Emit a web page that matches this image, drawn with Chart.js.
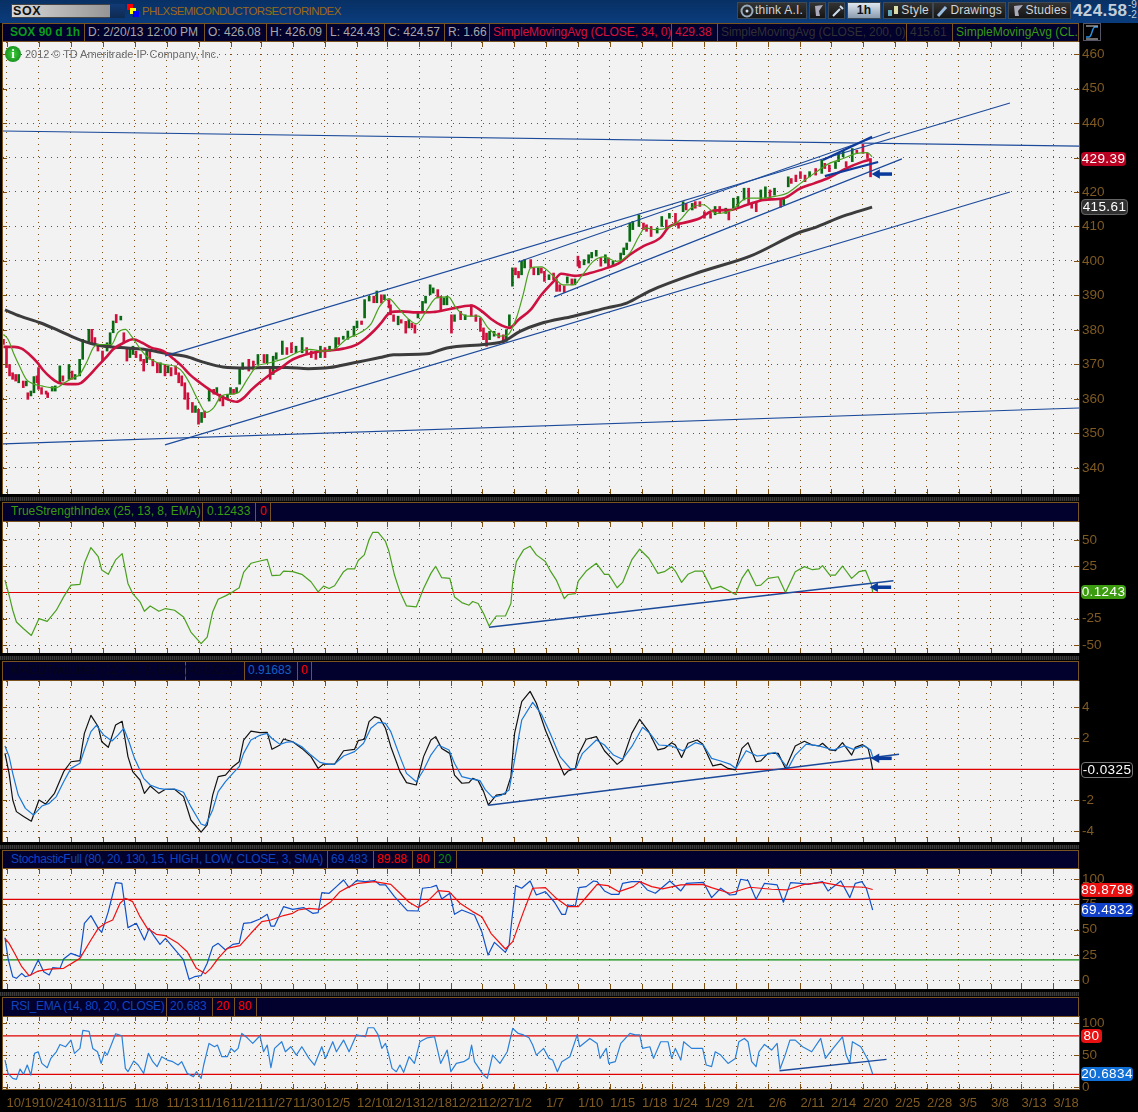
<!DOCTYPE html>
<html><head><meta charset="utf-8"><title>SOX</title>
<script src="https://cdn.jsdelivr.net/npm/chart.js@4"></script>
<style>
html,body{margin:0;padding:0;background:#000;width:1138px;height:1112px;overflow:hidden;font-family:"Liberation Sans",sans-serif}
canvas{position:absolute;left:0}
.a{position:absolute;white-space:nowrap}
.bar{position:absolute;left:2px;width:1077px;background:#02002c;border:1px solid #7a5420;box-sizing:border-box;z-index:3}
.cell{position:absolute;top:0;bottom:0;border-right:1px solid #7a5420;font-size:12px;line-height:17px;white-space:nowrap;box-sizing:border-box;padding-left:3px}
.hatch{position:absolute;left:0;width:1079px;height:4px;background:repeating-linear-gradient(90deg,#3a3a3a 0 1px,#1c1c1c 1px 2px)}
.bdg{position:absolute;left:1081px;height:14px;line-height:14px;border-radius:4px;color:#fff;font-size:13.5px;text-align:center;z-index:4;letter-spacing:.4px}
.btn{position:absolute;top:2px;height:17px;background:linear-gradient(#333,#151515);border:1px solid #3d4a55;box-sizing:border-box;color:#cfd4d8;font-size:12px;line-height:15px;text-align:right;padding-right:3px;letter-spacing:.2px}
.btn svg{position:absolute;left:2px;top:1px}
</style></head><body>
<div class="a" style="left:0;top:0;width:1138px;height:23px;background:linear-gradient(#083064,#0a3c7c)"></div>
<div class="a" style="left:11px;top:4px;width:114px;height:14px;background:linear-gradient(90deg,#d8d8d8,#8c8c8c);border:1px solid #444;box-sizing:border-box;font:bold 12.5px/12px 'Liberation Sans';letter-spacing:.6px;padding-left:1px;color:#111">SOX</div>
<div class="a" style="left:110px;top:4px;width:15px;height:14px;background:linear-gradient(#123a78,#0e2a50)"></div>
<div class="a" style="left:127px;top:4px;width:6px;height:6px;background:#f00"></div>
<div class="a" style="left:130px;top:8px;width:6px;height:6px;background:#ff0"></div>
<div class="a" style="left:133px;top:11px;width:6px;height:6px;background:#00f"></div>
<div class="a" style="left:142px;top:4px;font-size:11.5px;line-height:15px;letter-spacing:-.6px;color:#9a6a18">PHLXSEMICONDUCTORSECTORINDEX</div>
<div class="btn" style="left:737px;width:70px"><svg width="14" height="14"><circle cx="7" cy="7" r="5.5" fill="none" stroke="#9ab" stroke-width="2"/><circle cx="7" cy="7" r="1.5" fill="#cde"/></svg>think A.I.</div>
<div class="btn" style="left:809px;width:17px"><svg width="13" height="14"><path d="M3 2L11 1L7 7L8 12H4Z" fill="#aab"/></svg></div>
<div class="btn" style="left:828px;width:17px"><svg width="13" height="14"><path d="M2 12L9 5M9 2L12 5" stroke="#cde" stroke-width="2" fill="none"/></svg></div>
<div class="btn" style="left:847px;width:34px;background:linear-gradient(#dfe6ee,#8a9cb0);color:#111;font-weight:bold;text-align:center;padding:0">1h</div>
<div class="btn" style="left:883px;width:50px"><svg width="14" height="14"><rect x="2" y="6" width="4" height="6" fill="#6ab"/><rect x="8" y="2" width="4" height="8" fill="#dda"/></svg>Style</div>
<div class="btn" style="left:933px;width:73px"><svg width="14" height="14"><path d="M2 12L10 3" stroke="#9bd" stroke-width="3"/></svg>Drawings</div>
<div class="btn" style="left:1008px;width:63px"><svg width="14" height="14"><path d="M3 2L12 1L7 7L8 12H4Z" fill="#aab"/></svg>Studies</div>
<div class="a" style="left:1073px;top:2px;font:bold 17px/18px 'Liberation Sans';color:#c4ced8;letter-spacing:.4px">424.58</div>
<div class="a" style="left:1128px;top:0;font-size:10px;line-height:10px;color:#c4ced8">-9<br>-2</div>

<div class="bar" style="top:23px;height:19px">
 <div class="cell" style="left:0;width:82px;color:#0a9a1e;font-weight:bold;padding-left:7px">SOX 90 d 1h</div>
 <div class="cell" style="left:82px;width:120px;color:#a8a8a8">D: 2/20/13 12:00 PM</div>
 <div class="cell" style="left:202px;width:62px;color:#a8a8a8">O: 426.08</div>
 <div class="cell" style="left:264px;width:60px;color:#a8a8a8">H: 426.09</div>
 <div class="cell" style="left:324px;width:58px;color:#a8a8a8">L: 424.43</div>
 <div class="cell" style="left:382px;width:60px;color:#a8a8a8">C: 424.57</div>
 <div class="cell" style="left:442px;width:45px;color:#a8a8a8">R: 1.66</div>
 <div class="cell" style="left:487px;width:182px;color:#d8103c;letter-spacing:-.1px">SimpleMovingAvg (CLOSE, 34, 0)</div>
 <div class="cell" style="left:669px;width:46px;color:#d8103c">429.38</div>
 <div class="cell" style="left:715px;width:189px;color:#303034;letter-spacing:-.1px">SimpleMovingAvg (CLOSE, 200, 0)</div>
 <div class="cell" style="left:904px;width:46px;color:#303034">415.61</div>
 <div class="cell" style="left:950px;right:0;border:0;overflow:hidden;color:#3a9a10">SimpleMovingAvg (CL..</div>
</div>
<div class="a" style="left:1083px;top:23px;width:18px;height:18px;border:1px solid #556;box-sizing:border-box;z-index:3"><svg width="16" height="16"><path d="M2 13 H5 C8 13 8 3 11 3 H14" stroke="#2a90e0" fill="none" stroke-width="1.5"/><path d="M2 2H14M2 15H14" stroke="#ddd"/></svg></div>
<div class="a" style="left:5px;top:46px;width:16px;height:16px;border-radius:8px;background:radial-gradient(#3ed03e,#0a7a12);color:#fff;font:bold 13px/16px 'Liberation Serif';text-align:center;z-index:3">i</div>
<div class="a" style="left:25px;top:47px;color:#6e6e6e;font-size:11px;line-height:14px;z-index:3;letter-spacing:-.05px">2012 © TD Ameritrade IP Company, Inc.</div>

<div class="hatch" style="top:497px"></div>
<div class="bar" style="top:502px;height:20px">
 <div class="cell" style="left:0;width:200px;color:#3a9a10;padding-left:8px">TrueStrengthIndex (25, 13, 8, EMA)</div>
 <div class="cell" style="left:200px;width:53px;color:#3a9a10;padding-left:4px">0.12433</div>
 <div class="cell" style="left:253px;width:15px;color:#f00;padding-left:4px">0</div>
</div>
<div class="hatch" style="top:656px"></div>
<div class="bar" style="top:661px;height:20px">
 <div class="cell" style="left:0;width:183px;color:#060618;padding-left:8px">MACDTwoLines (12, 26, 9, EMA)</div>
 <div class="cell" style="left:183px;width:59px;color:#060618;padding-left:4px">-0.03252</div>
 <div class="cell" style="left:242px;width:53px;color:#1060c8">0.91683</div>
 <div class="cell" style="left:295px;width:14px;color:#f00">0</div>
</div>
<div class="hatch" style="top:845px"></div>
<div class="bar" style="top:850px;height:19px">
 <div class="cell" style="left:0;width:325px;color:#1044c0;padding-left:8px;letter-spacing:-.3px">StochasticFull (80, 20, 130, 15, HIGH, LOW, CLOSE, 3, SMA)</div>
 <div class="cell" style="left:325px;width:46px;color:#1044c0">69.483</div>
 <div class="cell" style="left:371px;width:39px;color:#f00">89.88</div>
 <div class="cell" style="left:410px;width:22px;color:#f00">80</div>
 <div class="cell" style="left:432px;width:22px;color:#0a8a0a">20</div>
</div>
<div class="hatch" style="top:992px"></div>
<div class="bar" style="top:997px;height:20px">
 <div class="cell" style="left:0;width:164px;color:#1044c0;padding-left:8px;letter-spacing:-.4px">RSI_EMA (14, 80, 20, CLOSE)</div>
 <div class="cell" style="left:164px;width:46px;color:#1044c0">20.683</div>
 <div class="cell" style="left:210px;width:22px;color:#f00">20</div>
 <div class="cell" style="left:232px;width:22px;color:#f00">80</div>
</div>

<div class="bdg" style="top:152px;width:45px;background:#b80020">429.39</div>
<div class="bdg" style="top:199px;width:45px;background:#303030;border:1px solid #666">415.61</div>
<div class="bdg" style="top:585px;width:45px;background:#3c9c10">0.1243</div>
<div class="bdg" style="top:762px;width:50px;background:#000;border:1px solid #777">-0.0325</div>
<div class="bdg" style="top:883px;width:52px;background:#e81010">89.8798</div>
<div class="bdg" style="top:903px;width:52px;background:#1040c8">69.4832</div>
<div class="bdg" style="top:1029px;width:21px;background:#e81010">80</div>
<div class="bdg" style="top:1067px;width:52px;background:#1070d8">20.6834</div>

<canvas id="cMain" style="top:42px"></canvas>
<canvas id="cTsi" style="top:522px"></canvas>
<canvas id="cMacd" style="top:681px"></canvas>
<canvas id="cStoch" style="top:869px"></canvas>
<canvas id="cRsi" style="top:1016px"></canvas>

<script>
// ---------- categories / ticks
const tickBars=[0,21,42,63,84,105,126,147,167,188,209,230,250,271,292,312,333,354,375,396,417,437,458,479,500,521,541,562,583,604,625,646,666,687];
const tickLabels=["10/19","10/24","10/31","11/5","11/8","11/13","11/16","11/21","11/27","11/30","12/5","12/10","12/13","12/18","12/21","12/27","1/2","1/7","1/10","1/15","1/18","1/24","1/29","2/1","2/6","2/11","2/14","2/20","2/25","2/28","3/5","3/8","3/13","3/18"];
const priceTicks=[340,350,360,370,380,390,400,410,420,430,440,450,460];
const tsiTicks=[-50,-25,25,50];
const macdTicks=[-4,-2,2,4];
const stochTicks=[0,25,50,75,100];
const rsiTicks=[0,50,100];
// ---------- price candles (every few bars)
const candleBars=[-2,0,2,4,6,8,11,13,14,16,18,20,21,23,26,27,30,32,35,37,41,43,45,48,50,54,56,58,60,63,66,68,70,72,75,77,79,81,83,85,88,90,92,94,96,99,101,104,106,108,111,113,115,117,119,122,124,126,128,130,133,136,138,140,142,145,147,149,151,153,155,159,162,165,169,171,173,175,177,181,184,187,190,194,197,200,203,206,209,212,216,218,221,224,228,230,233,235,238,241,243,
246,248,251,252,254,257,259,262,264,266,268,270,273,275,278,280,283,285,287,289,292,294,298,301,305,308,311,313,315,317,320,323,326,328,330,332,334,336,338,340,344,346,349,351,353,356,359,361,363,366,368,371,373,375,376,379,382,384,387,390,393,395,398,403,405,407,409,411,415,418,420,423,427,
430,433,435,439,441,444,446,450,452,455,458,462,465,468,472,474,477,480,484,487,489,492,495,498,501,504,508,510,513,515,518,521,524,527,531,535,537,540,544,546,549,551,555,558,562,565,567];
const candleOpen=[377.3,375.3,370,367.6,367.1,364.7,365.2,363.8,361.8,360.9,361.8,366.7,369.1,363.3,362.3,361.8,362.3,362.3,364.7,366.7,365.7,368.1,365.7,366.7,371.5,376.3,380.2,377.8,375.8,373.9,373.9,375.3,379.2,384.5,382.9,379.2,374.4,372,372.9,373.9,372.9,371.5,370.5,373.9,371.5,370.5,367.6,370,367.6,369.1,369.6,367.6,366.7,364.7,361.8,359,356.1,357,353.2,356.5,359.4,362.8,361.4,361.4,360.9,359.9,361.4,362.8,361.8,364.3,368.6,371.5,371,370,372.9,370.5,368.6,367.1,371.5,372.9,374.9,376.3,373.4,373.4,374.9,373.9,373.4,372,374.9,373.9,374.4,377.8,377.3,377.3,378.2,380.6,382.6,383.5,388.4,389.8,387.9,
390.2,388.8,388.8,387.3,384.4,381.5,383,382.5,380.6,382,381.5,383.5,385.4,387.8,390.2,390.7,391.7,389.8,387.3,387.3,384.4,382.5,385.4,383,387.3,384.4,383.5,380.6,379.1,377.2,378.2,379.1,378.6,376.7,381.1,392.7,398,397,396,398,400.4,398,396,398,397,394.6,396.5,394.6,393.1,392.8,393.6,394.8,393.1,401.4,399.9,398.9,399.4,400.9,401.4,400.9,399.4,400.9,398.9,400.4,401.8,403.3,405.7,409.1,410,411,410.5,410,408.1,
410,411.9,412.4,413.8,411,414.3,416.7,414.8,417.2,417.2,414.3,413.8,413.4,415.8,413.8,414.3,415.3,415.8,417.7,421.1,416.7,417.2,417.7,418.2,420.6,419.1,417.7,416.3,421.5,423.9,424.9,425.9,424.9,424.4,426.8,425.4,428.3,427.8,426.8,428.8,430.2,428.8,428.8,432.1,433.8,431.2,429.7];
const candleClose=[375.8,369.1,366.7,365.7,365.2,367.1,363.3,365.2,359.9,362.3,366.5,364.7,362.8,361.4,361.4,360.4,363.6,363.8,369.6,365.2,370,365.7,367.1,371.5,377.3,380.2,376.3,375.8,373.9,371,376.3,379.2,382.6,382.1,384,376.3,371,374.4,375.3,372,371,368.1,373.9,371.5,369.6,367.6,370.5,366.7,369.6,366.7,367.1,364.7,363.8,359.9,357,356.1,358,352.7,356.1,354.6,362.8,361.4,363.3,359.4,358,361.4,363.3,361.4,363.3,368.6,370.5,368.1,368.6,372.9,370.5,372.9,365.7,372.4,373.4,376.8,372.9,373.4,375.3,377.8,372.9,372,371.5,375.3,372,375.3,377.8,375.8,378.2,379.7,381.1,382.6,381.6,388.8,389.8,387.9,391.3,
387.8,390.2,386.4,384.4,382.5,384,382,379.1,383,380.6,379.1,385.4,388.3,389.8,393.1,392.2,389.3,385.9,389.3,389.8,379.1,384.4,383,384.4,384,382.5,379.6,377.2,375.3,379.6,379.6,377.7,376.2,380.1,384.4,398,396,395.1,399.9,400.4,398,396,398,396.5,394.1,396,394.6,391.2,391.2,390.9,395.4,393.1,394.8,398.5,398,400.4,401.8,402.5,403.1,398.5,401.8,398.5,399.9,402.3,403.8,405.2,411,411.5,413.4,409.1,408.6,407.1,409.6,
412.9,409.5,413.8,410.5,409.5,417.2,414.8,416.7,415.3,415.8,412.4,412.4,415.8,413.8,415.3,411.9,418.2,418.7,421.1,416.7,415.3,414.3,420.6,421.5,418.2,421.1,415.6,418.2,424.4,422.5,423,423.9,423,425.9,424.9,429.2,426.8,425.9,428.8,431.2,432.1,427.3,432.6,431.2,431.2,429.7,424.4];
// ---------- moving averages
const sma34Bars=[-2,5,10,15,20,24,29,34,40,45,49,54,59,65,70,77,83,89,95,103,110,115,120,127,133,138,145,151,155,161,166,173,181,186,193,199,207,215,221,229,236,241,245,252,259,269,280,291,305,312,318,325,330,336,344,351,359,364,373,383,394,402,409,418,429,435,444,455,464,475,486,497,510,521,530,540,551,562,567];
const sma34Vals=[375.1,375.1,374.6,372.9,370.7,368.4,366.2,364.7,364.3,364.3,364.7,366.7,369.1,371.9,374.4,376.3,377.3,376.3,374.9,373.9,371.5,369.6,367.2,364.7,362.8,361.4,359.9,359.2,360.1,362.8,364.7,367.1,369.3,371,372.4,373.2,373.9,374.2,374.6,375.6,377.7,379.7,381.6,385.1,385.4,385.1,385.2,386.1,387.1,385.4,383.2,381.3,380.6,383,385.9,390.2,394.1,396.3,395.7,396.5,398,399.4,401.8,404.3,406.7,410,411,412.4,414.6,414.8,416.3,417.7,418.2,421.1,422.5,424.2,426.8,428.8,429.4];
const sma200Bars=[-1,9,22,35,49,61,75,90,105,118,129,142,158,171,184,198,212,228,236,245,254,276,289,315,326,337,350,372,394,407,422,455,488,521,530,549,568];
const sma200Vals=[385.8,384,382.1,379.7,377,375.5,374.9,374.4,373.2,372.3,370.7,369.3,369,369.1,369.1,368.8,369.1,370.5,371.2,372,372.8,373.1,374.8,375.9,376.7,379.6,381.8,384,386.4,387.8,391.3,396.8,401.4,408.4,409.6,413,415.6];
const smaGreenBars=[-2,1,5,9,13,18,23,29,33,38,44,48,53,57,60,65,69,73,78,82,88,92,99,104,111,116,120,126,131,136,141,147,152,158,164,171,177,184,193,199,207,215,223,232,239,245,251,256,263,269,276,282,290,295,302,310,316,324,329,335,339,344,351,358,365,372,378,385,392,400,409,415,419,426,435,442,449,457,466,476,486,495,505,512,521,530,540,549,558,565,568];
const smaGreenVals=[378.7,377.3,372.9,369.1,365.7,364.3,363.8,363.3,363.3,364.7,366.2,367.1,371,374.9,375.8,375.8,375.8,379.2,380.2,378.2,374.4,372.4,370.5,370,369.4,367.6,364.7,359.4,356.1,357.5,360.9,361.4,361.8,365.7,369.4,370.3,371,372,373.9,374.4,373.9,374.4,377.3,379.2,381.6,386.9,389.1,386.9,383.5,381.8,385.9,389.3,389.6,386.4,384,384,380.6,378.2,378.6,384,390.2,398,398.3,396,393.1,393.1,396,399.9,401.2,399.9,402.3,407.1,409.6,409.1,409.8,411.9,415.3,416.3,413.8,414.8,418.2,418.2,418.8,419.6,422.5,425.4,428.3,429.7,431.2,431.4,430.2];
// ---------- true strength index
const tsiBars=[-1,1.7,4.1,6.5,11.2,16.3,21.3,26.7,32.7,37.5,42.3,48.2,51.1,55.4,60.2,62.5,66.8,71.6,75.9,79.7,82.8,87.6,90.5,94.3,100,104.3,110.3,116.2,121,127.7,131.7,135.3,138.9,143.7,148.5,152.7,155.6,160.4,166.3,171.1,174.2,179.5,181.8,187.8,193.8,199.8,204.5,208.1,211.7,215.3,221.2,223.6,228.4,230.8,234.8,237.9,240.3,243.9,248.7,251,254.6,258.2,262.5,268.9,273.7,278.5,281.6,285.6,290.9,294,298.8,303.5,305.9,309.5,313.1,316.7,321.4,327.4,331,332.2,334.6,339.3,343.6,347.7,353.6,357.2,360.8,366,368.5,373.3,375.2,380.4,387.1,392.4,395.2,400.7,404.3,410.3,415.5,421.5,427.4,431.7,436.5,438.9,443,447.2,452,456.8,462.7,468.7,473.5,478.3,482.6,486.6,491.9,495,499.7,506.4,511.2,517.6,523.6,528.8,533.1,535.5,540.3,543.9,548.6,554.6,559.4,563.7,567.7,568.4];
const tsiVals=[11.8,-2.6,-16.9,-28.1,-34.5,-40.9,-24.9,-27.5,-16.9,-4.2,7,7.7,27.8,42.8,34.2,21.4,17.3,31,37,8.6,-1,-8.9,-17.9,-12.8,-17.9,-15.3,-16.9,-23.3,-37.7,-48.6,-42.5,-18.5,-6.4,-3.2,0.6,4.5,19.2,27.8,30,31.6,16,16.6,20.4,19.8,17.3,10.2,0.6,6.1,3.8,6.4,19.8,22.4,22.4,30.4,35.8,50.2,57.2,57.2,48.6,39,16.6,0.6,-12.8,-13.7,3.8,18.2,24.9,14.1,13.4,-4.2,-9.6,-12.1,-8.6,-10.5,-20.1,-31.9,-22.4,-22.4,-10.5,10.2,29.4,40.6,44.1,35.8,29.4,19.8,11.8,-5.8,-1.9,-1,10.9,20.4,27.8,17.3,17.3,4.5,9.6,31,41.2,32.6,18.2,19.8,24.6,20.4,9.6,17.3,20.4,20.4,3.2,5.8,2.2,-1.9,13.4,22,6.4,7,13.4,15,0,19.8,24.6,21.7,22.4,25.6,16.6,16.6,25.2,13.4,19.8,21.1,7,0.12];
// ---------- MACD two lines
const macdBars=[-1,1.7,4.1,6.5,11.2,16.3,21.3,25.6,31.5,37.5,42.3,48.2,51.1,55.4,60.2,62.5,66.8,71.6,75.9,79.7,82.8,87.6,90.5,94.3,100,104.3,110.3,116.2,121,127.7,131.7,135.3,138.9,143.7,148.5,152.7,155.6,160.4,166.3,171.1,174.2,179.5,181.8,187.8,193.8,199.8,204.5,208.1,215.3,221.2,228.4,230.8,234.8,237.9,241.5,245.1,248.7,252.2,258.2,262.5,268.9,273.7,278.5,281.6,285.6,290.9,294,298.8,303.5,305.9,309.5,313.1,316.2,321.4,327.4,331,333.4,338.1,343.6,347.7,353.6,360.8,366,368.5,373.3,375.2,380.4,387.1,392.4,400.7,404.3,410.3,415.5,421.5,427.4,431.7,436.5,438.9,443,447.2,453.2,456.8,463.5,468.7,473.5,478.3,482.6,486.6,491.9,495,499.7,506.4,511.2,517.6,523.6,528.8,533.1,535.5,540.3,543.9,548.6,554.6,557,561.8,565.4,567,568.4];
const macdVals=[1.03,-0.26,-1.98,-2.73,-3.05,-3.35,-1.98,-2.24,-1.55,-0.15,0.49,0.56,2.32,3.48,2.75,1.78,1.42,2.86,3.1,0.82,-0.15,-0.69,-1.55,-1.08,-1.55,-1.29,-1.29,-1.76,-3.27,-4.06,-3.59,-1.66,-0.47,-0.37,0.17,0.49,1.89,2.47,2.37,2.39,1.29,1.57,1.96,1.78,1.35,0.82,0.06,0.34,0.34,1.2,1.29,1.85,1.94,3.08,3.4,3.29,2.65,1.46,-0.15,-0.86,-1.01,0.82,1.89,2.11,1.35,1.03,-0.37,-0.9,-0.86,-0.58,-0.73,-1.44,-2.3,-1.66,-1.59,-0.47,2.32,4.37,5.03,4.26,2.54,0.82,-0.37,-0.11,0.06,0.92,1.94,2.11,1.2,0.32,0.6,2.32,3.23,2.43,1.25,1.35,1.72,1.57,0.77,1.68,1.89,1.63,0.22,0.34,0.06,-0.04,1.35,1.72,0.49,0.54,1.03,1.03,0.06,1.51,1.81,1.57,1.51,1.68,1.25,1.2,1.72,0.92,1.42,1.59,1.35,0.71,-0.03];
const signalBars=[-1,1.7,4.1,7.7,12.4,17.7,23.2,28,32.7,37.5,42.3,48.2,51.1,55.4,59,63.7,69.2,73.3,76.9,80.4,84,90,94.3,100,104.3,110.3,116.2,121,127.7,130.5,135.3,138.9,143.7,148.5,152.7,155.6,160.4,166.3,171.1,174.2,179.5,184.2,187.8,193.8,199.8,205.7,211.7,215.3,221.2,228.4,234.3,239.1,243.9,248.7,252.2,258.2,262.5,268.9,273.7,278.5,283.3,290.4,294,298.8,304.7,310.7,314.3,319,325,329.8,333.4,338.1,345.3,351.3,357.2,363.2,369.9,373.3,378,387.1,392.4,398.3,404.3,410.3,417.4,422.2,428.2,436.5,443.7,452,457.3,462.7,468.7,474.7,478.7,485.4,492.6,497.4,504.5,512.9,517.6,524.8,533.1,542.7,549.9,555.8,563,567,568.4];
const signalVals=[1.51,0.82,-0.26,-1.66,-2.52,-2.95,-2.37,-2.2,-1.76,-0.8,0.06,0.39,1.25,2.43,2.84,2.22,1.83,2.22,2.65,1.78,0.71,-0.58,-1.01,-1.23,-1.29,-1.27,-1.48,-2.41,-3.53,-3.63,-2.62,-1.44,-0.8,-0.26,0.17,1.03,1.89,2.2,2.32,1.99,1.61,1.76,1.78,1.46,0.92,0.45,0.32,0.34,0.86,1.14,1.68,2.65,3.03,2.97,2.43,0.82,-0.26,-0.8,-0.04,0.92,1.57,1.25,0.39,-0.47,-0.62,-0.73,-1.33,-1.81,-1.66,-1.33,0.6,3.18,4.32,3.51,2.22,0.82,0.06,0,1.03,1.89,1.57,0.92,0.65,1.46,2.71,2.32,1.57,1.51,1.2,1.72,1.57,0.71,0.54,0.34,0.06,1.2,0.86,0.92,1.09,0.06,0.92,1.63,1.51,1.25,1.51,1.29,1.53,1.25,0.82];
// ---------- stochastic
const stochKBars=[-1,1,4.1,6.5,10,12.4,16,20.8,24.4,28,30.3,35.1,37.5,42.3,48.2,51.1,55.4,60.2,62.5,66.8,71.6,75.7,79.7,85.2,90.5,93.6,97.1,100.7,104.3,112.6,116.2,119.8,123.4,127.7,131.7,135.3,138.9,143.7,148.5,152.7,155.6,160.4,166.3,171.1,173.5,175.9,181.8,187.8,195,200.9,204.5,206.9,211.7,216.5,221.2,224.8,229.6,235.5,241.5,245.1,248.7,254.6,263,270.1,273,278.5,282.1,285.6,290.9,294,298.8,307.1,311.9,316,320.2,327.4,329.8,334.1,338.1,343.6,347.7,353.6,359.6,364.4,366.8,368.5,373.3,375.7,380.4,385.2,387.6,392.4,396.7,401.9,404.3,410.3,415.5,420.5,425.8,435.3,442.5,446.1,457.3,462.7,468.7,474.7,478.7,481.8,486.6,491.9,497.4,505.7,509.8,514.5,521.2,526,535.5,539.1,547.5,553.4,557,561.3,564.2,566.5,568.4];
const stochKVals=[42,21.5,3.3,1.7,6.6,3.3,5,19.9,8.3,5,12.3,11.6,20.9,26.5,23.2,56.3,63.9,51.3,47.4,67.9,96.7,96,52,56.3,39.7,51.3,43,35.4,41.4,26.5,19.9,0.7,3.3,4.3,16.6,33.1,36.4,29.8,35.4,36.4,56.3,57,60.6,65.2,53.6,53.6,72.8,70.2,71.9,66.2,66.9,86.8,86.1,92.7,99.3,91.7,98.7,97.7,98.7,94.4,94.4,82.8,68.9,68.5,91.1,92.1,94,80.5,86.1,65.2,69.5,64.6,48,24.8,37.4,27.5,34.8,93.7,91.1,98.3,84.4,87.7,77.2,65.2,65.2,74.5,73.5,91.7,92.7,98.3,97.7,88.4,85.1,85.1,96,97.7,97.7,89.4,86.1,98.3,88.4,96,97,81.8,91.1,84.4,85.1,100,98.7,80.1,96,94.4,77.2,96.7,96,95,97.7,88.4,98.3,81.8,96,97.7,91.1,79.5,69.5];
const stochDBars=[-1,1.7,5.3,10,14.8,20.8,28,37.5,48.2,55.4,60.2,64.9,69.7,74.5,78,82.8,87.6,92.4,98.3,104.3,112.6,118.6,124.6,130.5,134.1,138.9,144.9,153.2,160.4,167.5,173.5,181.8,187.8,191.4,198.5,205.7,212.9,218.8,224.8,230.8,241.5,252.2,258.2,264.2,270.1,276.1,283.3,290.4,297.6,305.9,311.9,317.9,327.4,332.2,339.3,345.3,353.6,360.8,368.5,375.2,381.6,387.6,394.7,401.9,411.4,415.5,423.4,430.5,442.5,456.8,462.7,474.7,487.8,502.1,511.7,523.6,535.5,549.9,563,568.4];
const stochDVals=[41.4,36.4,26.5,13.2,4.3,8.9,10.9,11.6,21.5,39.7,51.3,56.3,59.6,76.2,81.1,77.8,62.9,51.3,45.4,44,36.4,28.1,11.6,6.3,11.6,21.5,31.5,34.1,46.4,58,59.6,64,66.2,69.5,71.2,70.2,77.8,87.7,92.7,96,97.7,95,86.1,77.2,71.9,77.8,88.7,87.7,76.2,67.9,62.9,46.4,30.8,38.1,67.9,91.1,91.7,81.1,72.8,72.8,84.4,95,93.7,87.7,92.7,97.7,92.7,90.4,94.4,95,91.7,86.1,92.1,90.1,89.4,95,96.9,92.7,92.1,89.88];
// ---------- RSI
const rsiBars=[-1,1,4.1,6.5,8.9,11.2,13.6,16,18.4,20.8,23.2,26.7,29.1,32.7,35.1,38.7,42.3,44.6,48.2,50.1,54.2,56.6,59.7,62.1,64.5,66.1,71.6,75.7,78,79.7,83.5,86.4,90,93.1,96,98.8,101.9,105.5,109.1,112.6,115,118.6,122.7,124.6,127.7,129.4,132.9,136.5,138.4,141.3,144.9,147.3,149.6,152,154.4,158,161.6,166.3,168.7,171.1,173.5,175.9,180.6,183,186.6,190.2,193.8,198.5,202.1,206.9,209.3,214.1,216.5,221.2,224.8,229.6,235.5,237.2,241,243.9,246.3,248.7,250.6,253,255.8,258.2,260.6,264.2,267.7,271.3,276.1,280.9,284.9,289.2,291.6,295.2,300,303.5,305.2,307.1,313.1,315.5,319,323.8,328.6,332.2,335.8,339.3,342.9,345.3,347.7,352.5,356,358.4,361.5,364.4,369.7,374.5,376.1,382.8,387.6,389.5,393.6,395.2,399.5,403.1,409.1,412.6,415.5,417.4,422.2,424.6,429.3,434.1,436.5,438.9,442.5,444.4,449.6,456.8,459.2,462.7,465.1,468.7,473.5,478.3,480.6,484.2,486.6,489,491.9,493.8,497.4,502.1,505.7,507.6,511,514.1,517.6,522.4,528.4,534.3,537.4,541.5,545.1,548.6,551,553.4,555.1,560.6,565.4,568.4];
const rsiVals=[42.4,21.7,14,12.4,28.4,20.2,34.7,19.1,52.8,55.3,37.2,30.5,45,55.3,66.7,63,73.4,52.8,60.5,88.5,87,60.5,55.3,37.2,55.3,50.1,83.3,80.2,29.5,24.3,40.9,34.7,21.7,52.8,39.9,32.1,47.6,42.4,39.9,34.7,39.9,21.7,16.6,24.3,14,34.7,68.3,63.1,65.7,47.6,47.6,60.5,55.3,60.5,83.8,77,68.3,80.2,55.3,65.7,30.5,60.5,70.9,55.3,63.1,50.1,63.1,45,34.7,63.1,45,70.9,55.3,73.4,55.3,81.5,78.6,92.6,92.6,81.5,60.5,68.3,52.8,29.5,24.3,34.7,23.3,47.6,37.2,70.9,77,78.6,37.2,57.9,24.3,37.2,39.9,45,65.7,39.9,19.1,14,50.1,37.2,55.3,91.5,83.8,81.5,77,65.7,50.1,60.5,45,42.4,24.3,39.9,47.6,81.5,63.1,76,68.3,45,60.5,37.2,39.9,68.3,83.8,81.5,81.5,60.5,63.1,45,70.9,70.9,45,60.5,42.4,70.9,60.5,60.5,34.7,32.1,55.3,50.1,37.2,45,70.9,76,70.9,39.9,32.1,55.3,66.7,57.9,68.3,28.4,50.1,73.4,73.4,63.1,55.3,76,45,57.9,68.3,78.6,50.1,37.2,70.9,63.1,42.4,20.7];
// ---------- drawn trend lines: [bar1,value1,bar2,value2]
const priceTrends=[[-2.3,437.7,703.8,433.3],[-2.3,347,703.8,357.4],[104,346.7,658.5,420],[104,372.5,658.5,445.8],[335.7,399.7,579.8,437.4],[359.3,389.6,587.6,429.6]];
const priceThick=[[535.8,429.3,568,436],[537,424.6,572,428.7]];
const priceArrow=[571.3,425.2,581.1,425.2];
const tsiTrend=[316.6,-33.1,582,11.2];
const tsiArrow=[570,5,580.5,5];
const macdTrend=[316.2,-2.32,585.7,0.97];
const macdArrow=[570.9,0.71,580.9,0.71];
const rsiTrend=[507.3,25.8,577.5,43.5];
const zeroLine=[0]; const stochLevels=[80,20]; const rsiLevels=[80,20];

if(candleBars.length!==candleOpen.length||candleOpen.length!==candleClose.length) throw new Error('candles '+candleBars.length+' '+candleOpen.length+' '+candleClose.length);
[[sma34Bars,sma34Vals],[sma200Bars,sma200Vals],[smaGreenBars,smaGreenVals],[tsiBars,tsiVals],[macdBars,macdVals],[signalBars,signalVals],[stochKBars,stochKVals],[stochDBars,stochDVals],[rsiBars,rsiVals]].forEach((p,i)=>{if(p[0].length!==p[1].length) throw new Error('series '+i+' '+p[0].length+' '+p[1].length)});

const BROWN='#7d4e14', LABEL='#7f5a22', XMIN=-2.3, XMAX=703.8;
const xy=(b,v)=>b.map((x,i)=>({x,y:v[i]}));
const line=(b,v,color,width,order,smooth)=>({type:'line',data:xy(b,v),borderColor:color,borderWidth:width,pointRadius:0,tension:0,order,borderJoinStyle:'round',cubicInterpolationMode:smooth?'monotone':'default'});
const seg=(s,color,width,order)=>({type:'line',data:[{x:s[0],y:s[1]},{x:s[2],y:s[3]}],borderColor:color,borderWidth:width,pointRadius:0,order});
const level=(v,color,order)=>seg([XMIN,v,XMAX,v],color,1.2,order);
const arrow=s=>({type:'line',data:[{x:s[0],y:s[1]},{x:s[2],y:s[3]}],borderColor:'#0a3a9c',borderWidth:3.5,backgroundColor:'#0a3a9c',pointBorderColor:'#0a3a9c',pointStyle:'triangle',rotation:-90,pointRadius:[5.5,0],pointBorderWidth:0,order:0});
const noPad=s=>{s.paddingTop=0;s.paddingBottom=0;s.paddingLeft=0;s.paddingRight=0;};

const frame={id:'frame',
 beforeDraw(c){const a=c.chartArea,g=c.ctx;g.save();g.fillStyle='#f2f2f2';g.fillRect(a.left,a.top,a.width,a.height);g.restore();},
 afterDraw(c){const a=c.chartArea,g=c.ctx,X=c.scales.x,Y=c.scales.y;g.save();g.strokeStyle=BROWN;g.lineWidth=1;g.beginPath();
  X.ticks.forEach(t=>{const p=Math.round(X.getPixelForValue(t.value))+.5;g.moveTo(p,a.top);g.lineTo(p,a.top+5);g.moveTo(p,a.bottom);g.lineTo(p,a.bottom-5);});
  Y.ticks.forEach(t=>{const p=Math.round(Y.getPixelForValue(t.value))+.5;g.moveTo(a.left,p);g.lineTo(a.left+4,p);g.moveTo(a.right,p);g.lineTo(a.right-5,p);});
  g.stroke();g.strokeStyle='#7a5420';g.lineWidth=1;g.strokeRect(a.left-.5,a.top-.5,a.width+1,a.height+1);g.restore();}};

function pane(id,h,yMin,yMax,yTicks,datasets,showX){
 const el=document.getElementById(id);el.width=1138;el.height=h;
 return new Chart(el,{type:'line',data:{datasets},plugins:[frame],options:{
  responsive:false,animation:false,devicePixelRatio:1,layout:{autoPadding:false,padding:{left:3,right:0,top:0,bottom:0}},
  plugins:{legend:{display:false},tooltip:{enabled:false}},
  scales:{
   x:{type:'linear',offset:false,min:XMIN,max:XMAX,
    afterBuildTicks:s=>{s.ticks=tickBars.map(value=>({value}));},
    afterFit:s=>{s.height=showX?23:0;noPad(s);},
    grid:{color:BROWN,lineWidth:1,drawTicks:false,offset:false},border:{display:false,dash:[1,5]},
    ticks:{display:!!showX,autoSkip:false,maxRotation:0,minRotation:0,align:'start',color:LABEL,padding:7,font:{family:'Liberation Sans',size:13},callback:(v,i)=>tickLabels[i]}},
   y:{type:'linear',position:'right',min:yMin,max:yMax,
    afterBuildTicks:s=>{s.ticks=yTicks.map(value=>({value}));},
    afterFit:s=>{s.width=59;noPad(s);},
    grid:{color:BROWN,lineWidth:1,drawTicks:false},border:{display:false,dash:[1,5]},
    ticks:{color:LABEL,padding:3,font:{family:'Liberation Sans',size:13.5},callback:v=>String(v)}}
  }}});
}

const candles={type:'bar',order:6,barThickness:2,grouped:false,borderSkipped:false,borderWidth:0,
 data:candleBars.map((x,i)=>({x,y:[candleOpen[i],candleClose[i]]})),
 backgroundColor:candleBars.map((x,i)=>candleClose[i]>=candleOpen[i]?'#0a6a14':'#cf0f3c')};

pane('cMain',452,332.46,463.48,priceTicks,[
 candles,
 line(sma200Bars,sma200Vals,'#3c3c3c',3,5,true),
 line(sma34Bars,sma34Vals,'#cc1040',2.6,4,true),
 line(smaGreenBars,smaGreenVals,'#4aa01e',1.2,3,true),
 ...priceTrends.map(s=>seg(s,'#1c4a9a',1.1,2)),
 ...priceThick.map(s=>seg(s,'#0e3a9c',2.2,1)),
 arrow(priceArrow)
]);
pane('cTsi',131,-57.6,67.1,tsiTicks,[
 level(zeroLine[0],'#e00000',4),
 line(tsiBars,tsiVals,'#4aa01e',1.2,3),
 seg(tsiTrend,'#1c4a9a',1.5,2),
 arrow(tsiArrow)
]);
pane('cMacd',161,-4.69,5.7,macdTicks,[
 level(zeroLine[0],'#e00000',4),
 line(macdBars,macdVals,'#111',1.2,3),
 line(signalBars,signalVals,'#1a78d8',1.2,2),
 seg(macdTrend,'#1c4a9a',1.5,1),
 arrow(macdArrow)
]);
pane('cStoch',120,-8.9,110.2,stochTicks,[
 level(stochLevels[0],'#e00000',4),
 level(stochLevels[1],'#0a8a0a',4),
 line(stochKBars,stochKVals,'#1050c8',1.2,3),
 line(stochDBars,stochDVals,'#f01010',1.2,2)
]);
pane('cRsi',96,-2.6,110.9,rsiTicks,[
 level(rsiLevels[0],'#e00000',4),
 level(rsiLevels[1],'#e00000',4),
 line(rsiBars,rsiVals,'#2a80d8',1.2,3),
 seg(rsiTrend,'#1c4a9a',1.3,2)
],true);
</script>
</body></html>
